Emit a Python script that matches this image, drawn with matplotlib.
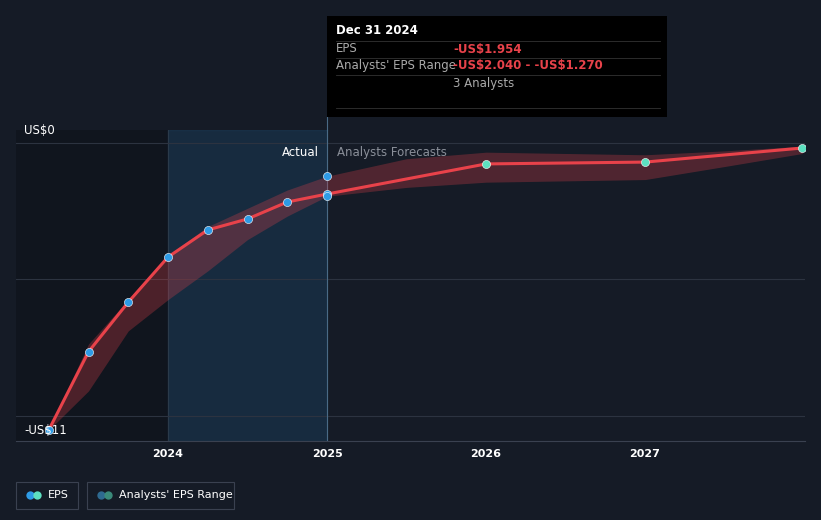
import numpy as np
import matplotlib.pyplot as plt
from matplotlib.patches import Rectangle

plt.rcParams["text.parse_math"] = False

# --- data ---
past_x = [2023.25, 2023.5, 2023.75, 2024.0, 2024.25, 2024.5, 2024.75, 2025.0]
past_eps = [-11.0, -8.0, -6.1, -4.37, -3.33, -2.91, -2.26, -1.954]
fc_x = [2025.0, 2026.0, 2027.0, 2027.99]
fc_eps = [-1.954, -0.80, -0.73, -0.19]
band_x = [2023.25, 2023.5, 2023.75, 2024.0, 2024.25, 2024.5, 2024.75, 2025.0,
          2025.5, 2026.0, 2026.5, 2027.0, 2027.5, 2027.99]
band_hi = [-11.0, -7.7, -6.0, -4.3, -3.2, -2.5, -1.8, -1.27,
           -0.6, -0.35, -0.4, -0.45, -0.3, -0.12]
band_lo = [-11.0, -9.5, -7.2, -6.0, -4.9, -3.7, -2.8, -2.04,
           -1.7, -1.5, -1.45, -1.4, -0.9, -0.40]
range_pts = [-1.27, -2.04]

BG = "#151b26"
RED = "#e8424a"
BLUE = "#2e9be6"
TEAL = "#5de0c0"

fig = plt.figure(figsize=(8.21, 5.2), dpi=100, facecolor=BG)
ax = fig.add_axes([16 / 821, 1 - 441 / 520, 789 / 821, 311 / 520])
ax.set_facecolor(BG)
ax.set_xlim(2023.044, 2028.006)
ax.set_ylim(-11.42, 0.5)

# shaded past regions
ax.axvspan(2023.044, 2024.0, color="#10151e", zorder=0)
ax.axvspan(2024.0, 2025.0, color="#1a3a55", alpha=0.55, zorder=0)
ax.axvline(2024.0, color="#2a3a4a", lw=0.8, zorder=0)

for y in [0, -5.2, -10.45]:
    ax.axhline(y, color="#2c3340", lw=0.8, zorder=1)

ax.fill_between(band_x, band_lo, band_hi, color=RED, alpha=0.28, lw=0, zorder=2)
ax.plot(past_x, past_eps, color=RED, lw=2.2, zorder=3)
ax.plot(fc_x, fc_eps, color=RED, lw=2.2, zorder=3)
ax.scatter(past_x, past_eps, s=34, color=BLUE, edgecolor="white", lw=0.4, zorder=4)
ax.scatter([2025.0, 2025.0], range_pts, s=34, color=BLUE, edgecolor="white", lw=0.4, zorder=4)
ax.scatter(fc_x[1:], fc_eps[1:], s=34, color=TEAL, edgecolor="white", lw=0.4, zorder=4)

# vertical marker line extending to tooltip
ax.plot([2025.0, 2025.0], [-11.42, 0.5], color="#4a6a85", lw=0.8, zorder=1)
fig.add_artist(plt.Line2D([327 / 821, 327 / 821], [1 - 130 / 520, 1 - 117 / 520],
                          color="#4a6a85", lw=0.8))

ax.text(2024.95, -0.35, "Actual", color="white", fontsize=8.5, ha="right", va="center")
ax.text(2025.06, -0.35, "Analysts Forecasts", color="#8a8f99", fontsize=8.5, ha="left", va="center")

ax.set_xticks([2024, 2025, 2026, 2027])
ax.set_xticklabels(["2024", "2025", "2026", "2027"], color="white", fontsize=8, fontweight="bold")
ax.tick_params(axis="x", length=0, pad=6)
ax.set_yticks([])
for s in ax.spines.values():
    s.set_visible(False)
ax.spines["bottom"].set_visible(True)
ax.spines["bottom"].set_color("#3a4150")

fig.text(24 / 821, 1 - 130 / 520, "US$0", color="white", fontsize=8.5, va="center")
fig.text(24 / 821, 1 - 430 / 520, "-US$11", color="white", fontsize=8.5, va="center")

# tooltip
fig.patches.append(Rectangle((327 / 821, 1 - 117 / 520), 340 / 821, 101 / 520,
                             transform=fig.transFigure, facecolor="black", edgecolor="none", zorder=5))
fig.text(336 / 821, 1 - 31 / 520, "Dec 31 2024", color="white", fontsize=8.5, fontweight="bold", va="center", zorder=6)
for yy in [41, 58, 75, 108]:
    fig.add_artist(plt.Line2D([336 / 821, 660 / 821], [1 - yy / 520] * 2, color="#333333", lw=0.6, zorder=6))
fig.text(336 / 821, 1 - 49 / 520, "EPS", color="#aaaaaa", fontsize=8.5, va="center", zorder=6)
fig.text(453 / 821, 1 - 49 / 520, "-US$1.954", color=RED, fontsize=8.5, fontweight="bold", va="center", zorder=6)
fig.text(336 / 821, 1 - 66 / 520, "Analysts' EPS Range", color="#aaaaaa", fontsize=8.5, va="center", zorder=6)
fig.text(453 / 821, 1 - 66 / 520, "-US$2.040 - -US$1.270", color=RED, fontsize=8.5, fontweight="bold", va="center", zorder=6)
fig.text(453 / 821, 1 - 83 / 520, "3 Analysts", color="#aaaaaa", fontsize=8.5, va="center", zorder=6)

# legend
for (x0, w, label, c1, c2) in [(16, 62, "EPS", BLUE, TEAL), (87, 147, "Analysts' EPS Range", "#2e6a90", "#3a8a7a")]:
    fig.patches.append(Rectangle((x0 / 821, 1 - 509 / 520), w / 821, 27 / 520, transform=fig.transFigure,
                                 facecolor=BG, edgecolor="#3a4150", lw=0.8))
    fig.add_artist(plt.Line2D([(x0 + 14) / 821], [1 - 495 / 520], marker="o", color=c1, ms=6, mec="none"))
    fig.add_artist(plt.Line2D([(x0 + 21) / 821], [1 - 495 / 520], marker="o", color=c2, ms=6, mec="none"))
    fig.text((x0 + 32) / 821, 1 - 495 / 520, label, color="white", fontsize=8, va="center")

fig.savefig("out.png", dpi=100, facecolor=BG)
